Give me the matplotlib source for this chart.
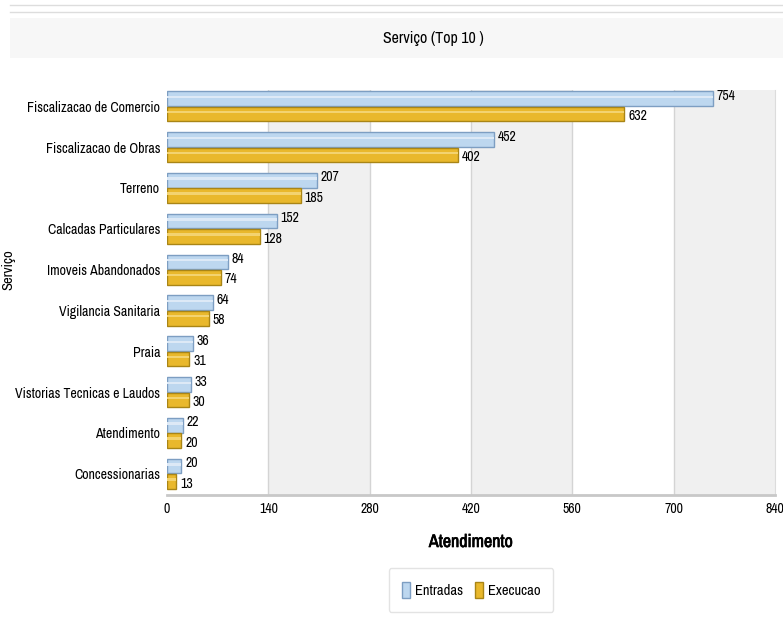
import matplotlib
matplotlib.use('Agg')
import matplotlib.pyplot as plt
from matplotlib import font_manager
import matplotlib.patheffects as pe
import numpy as np
from matplotlib.patches import Patch, Rectangle

# fonte estreita, se existir
disponiveis = set(f.name for f in font_manager.fontManager.ttflist)
candidatas = ['Liberation Sans Narrow', 'Archivo Narrow', 'PT Sans Narrow',
              'Roboto Condensed', 'Arimo Narrow', 'Encode Sans Condensed', 'Open Sans Condensed']
familia = [f for f in candidatas if f in disponiveis][:1] + ['DejaVu Sans']
plt.rcParams['font.family'] = familia

# dados
servicos = ['Fiscalizacao de Comercio', 'Fiscalizacao de Obras', 'Terreno',
            'Calcadas Particulares', 'Imoveis Abandonados', 'Vigilancia Sanitaria',
            'Praia', 'Vistorias Tecnicas e Laudos', 'Atendimento', 'Concessionarias']
entradas = [754, 452, 207, 152, 84, 64, 36, 33, 22, 20]
execucao = [632, 402, 185, 128, 74, 58, 31, 30, 20, 13]
ticks = [0, 140, 280, 420, 560, 700, 840]

cor_ent = '#bdd7ef'
borda_ent = '#7d9ec2'
cor_exe = '#e9b82c'
borda_exe = '#a98516'

fig = plt.figure(figsize=(7.83, 6.17), dpi=100)

# faixa do titulo
fig.patches.append(Rectangle((10/783, 1-58/617), 1, 40/617, transform=fig.transFigure,
                             facecolor='#f7f7f7', edgecolor='none', zorder=0))
for yy in (5, 12):
    fig.lines.append(plt.Line2D([10/783, 1], [1-yy/617]*2, transform=fig.transFigure,
                                color='#dddddd', lw=1))
fig.text(433/783, 1-38/617, 'Serviço (Top 10 )', ha='center', va='center', fontsize=11.5)

ax = fig.add_axes([167/783, 1-495/617, 608/783, 405/617])

# faixas alternadas
for i in range(len(ticks)-1):
    if i % 2 == 1:
        ax.axvspan(ticks[i], ticks[i+1], color='#f0f0f0', zorder=0, lw=0)
for t in ticks[1:-1]:
    ax.axvline(t, color='#d4d4d4', lw=1, zorder=0.5)

y = np.arange(len(servicos))
h = 0.36
ax.barh(y - h/2 - 0.01, entradas, height=h, color=cor_ent, edgecolor=borda_ent, lw=1, zorder=2)
ax.barh(y + h/2 + 0.01, execucao, height=h, color=cor_exe, edgecolor=borda_exe, lw=1, zorder=2)
# brilho
ax.barh(y - h/2 - h*0.14, entradas, height=h*0.16, color='#dde9f6', lw=0, zorder=3)
ax.barh(y + h/2 - h*0.12, execucao, height=h*0.16, color='#f3d370', lw=0, zorder=3)

for yi, v in zip(y, entradas):
    ax.text(v + 5, yi - h/2 - 0.08, str(v), va='center', ha='left', fontsize=10)
for yi, v in zip(y, execucao):
    ax.text(v + 5, yi + h/2 + 0.06, str(v), va='center', ha='left', fontsize=10)

ax.set_xlim(0, 840)
ax.set_ylim(len(servicos) - 0.48, -0.4)
ax.set_xticks(ticks)
ax.set_xticklabels([str(t) for t in ticks], fontsize=10)
ax.set_yticks(y)
ax.set_yticklabels(servicos, fontsize=10)
ax.tick_params(length=0, pad=5)
for s in ax.spines.values():
    s.set_visible(False)
ax.spines['bottom'].set_visible(True)
ax.spines['bottom'].set_color('#c8c8c8')
ax.spines['bottom'].set_linewidth(2)
ax.spines['right'].set_visible(True)
ax.spines['right'].set_color('#dcdcdc')

xl = fig.text(471/783, 1-542/617, 'Atendimento', ha='center', va='center',
              fontsize=13, fontweight='bold')
xl.set_path_effects([pe.withStroke(linewidth=0.5, foreground='black')])
fig.text(8/783, 1-270/617, 'Serviço', rotation=90, ha='center', va='center', fontsize=10.5)

handles = [Patch(facecolor=cor_ent, edgecolor=borda_ent, label='Entradas'),
           Patch(facecolor=cor_exe, edgecolor=borda_exe, label='Execucao')]
leg = fig.legend(handles=handles, loc='center', bbox_to_anchor=(471/783, 1-590/617),
                 ncol=2, fontsize=10.5, frameon=True, fancybox=True, handlelength=0.6,
                 handleheight=1.4, handletextpad=0.3, columnspacing=0.8, borderpad=0.9)
leg.get_frame().set_edgecolor('#dddddd')

fig.savefig('out.png', dpi=100)
